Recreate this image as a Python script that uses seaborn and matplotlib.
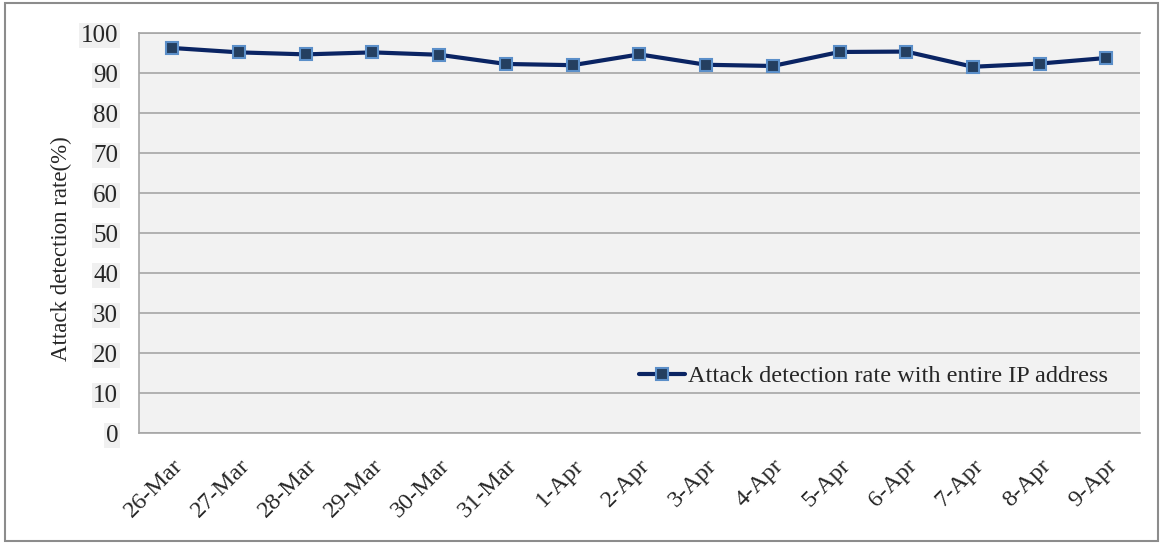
import matplotlib
matplotlib.use("Agg")
import matplotlib.pyplot as plt
import matplotlib.patches as mpatches
import seaborn as sns
import pandas as pd

dates = ["26-Mar", "27-Mar", "28-Mar", "29-Mar", "30-Mar", "31-Mar", "1-Apr", "2-Apr",
         "3-Apr", "4-Apr", "5-Apr", "6-Apr", "7-Apr", "8-Apr", "9-Apr"]
detection_rate = [96.3, 95.2, 94.7, 95.2, 94.6, 92.3, 92.0, 94.7,
                  92.1, 91.8, 95.3, 95.4, 91.6, 92.4, 93.8]
series_name = "Attack detection rate with entire IP address"
y_ticks = [0, 10, 20, 30, 40, 50, 60, 70, 80, 90, 100]

df = pd.DataFrame({"date": dates, "rate": detection_rate})
df["pos"] = range(len(dates))

sns.set_style("white")
plt.rcParams["font.family"] = ["Liberation Serif", "DejaVu Serif"]

fig = plt.figure(figsize=(11.63, 5.44), dpi=100)
ax = fig.add_axes([0.1195, 0.204, 0.8605, 0.735])
ax.set_facecolor("#f2f2f2")

sns.lineplot(data=df, x="pos", y="rate", ax=ax, color="#0a2463", linewidth=3,
             marker="s", markersize=9, markerfacecolor="#243f60",
             markeredgecolor="#5b8fc9", markeredgewidth=1.5, label=series_name)

ax.set_xlim(-0.5, len(dates) - 0.5)
ax.set_ylim(0, 100)
ax.set_yticks(y_ticks)
ax.set_yticklabels([str(v) for v in y_ticks], fontsize=18)
ax.set_xticks(df["pos"])
ax.set_xticklabels(dates, fontsize=17.5, rotation=45, ha="right", rotation_mode="anchor")
ax.tick_params(axis="y", length=0, pad=15)
ax.tick_params(axis="x", length=0, pad=16)
for lbl in ax.get_yticklabels():
    lbl.set_bbox(dict(facecolor="#f0f0f0", edgecolor="none", pad=1))

ax.yaxis.grid(True, color="#a6a6a6", linewidth=1.2)
ax.set_axisbelow(True)
for side in ["left", "bottom", "top", "right"]:
    ax.spines[side].set_color("#a6a6a6")
    ax.spines[side].set_linewidth(1.2)
ax.spines["right"].set_visible(False)

ax.set_xlabel("")
ax.set_ylabel("Attack detection rate(%)", fontsize=16.5)
ax.yaxis.set_label_coords(-0.067, 0.46)

leg = ax.legend(loc="lower right", bbox_to_anchor=(0.99, 0.06), frameon=False,
                fontsize=17.5, handlelength=1.9, handletextpad=0.1)

fig.patches.append(mpatches.Rectangle((0.004, 0.006), 0.992, 0.988, transform=fig.transFigure,
                                      fill=False, edgecolor="#8c8c8c", linewidth=1.5))

fig.savefig("out.png", dpi=100)
